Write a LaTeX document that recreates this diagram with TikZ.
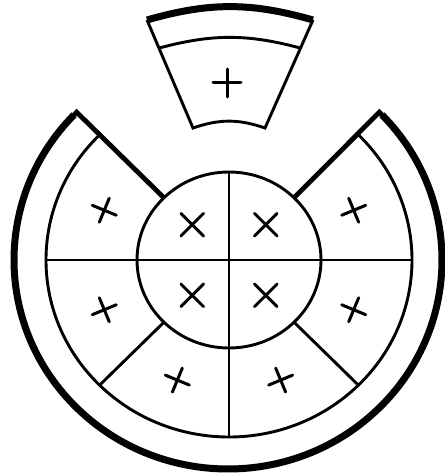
\documentclass[tikz,border=0pt]{standalone}
\usepackage{tikz}
\usetikzlibrary{calc}

\begin{document}
\begin{tikzpicture}[x=1pt,y=1pt,
  thinline/.style={line width=2.9pt},
  rimline/.style={line width=7pt},
  edgeline/.style={line width=4.8pt,line join=miter},
  plusmark/.style={line width=3pt,line cap=round}]
  \useasboundingbox (0,0) rectangle (445,475);
  % The wheel, drawn round its centre
  \begin{scope}[shift={(229,215)}]
    % Inner disc split in four
    \draw[thinline] (0,0) ellipse[x radius=92,y radius=88];
    \draw[thinline] (180:183 and 177) -- (0:183 and 177);
    \draw[thinline] (90:92 and 88) -- (270:183 and 177);
    % Ring, open at the top
    \draw[thinline] (135:183 and 177)
      arc[start angle=135,end angle=405,x radius=183,y radius=177];
    \foreach \a in {225,315}
      \draw[thinline] (\a:92 and 88) -- (\a:183 and 177);
    % Thick rim and the edges of the gap
    \coordinate (gapl) at ($(-1,0)+(135:214 and 209)$);
    \coordinate (gapr) at ($(-1,0)+(45:214 and 209)$);
    \draw[edgeline] (45:92 and 88) -- (gapr)
      arc[start angle=45,end angle=-225,x radius=214,y radius=209]
      -- (135:92 and 88);
    \draw[rimline] ($(-1,0)+(44:214 and 209)$)
      arc[start angle=44,end angle=-224,x radius=214,y radius=209];
    % Marks in the ring
    \foreach \a in {22.5,157.5,202.5,247.5,292.5,337.5}
      \draw[plusmark,shift={(\a:135 and 130)},rotate=\a]
        (-13,0) -- (13,0) (0,-13) -- (0,13);
    % Marks in the disc
    \foreach \a in {45,135,225,315}
      \draw[plusmark,shift={(\a:52 and 50)},rotate=45]
        (-16,0) -- (16,0) (0,-16) -- (0,16);
  \end{scope}
  % The piece taken out
  \coordinate (tl) at (147,455);
  \coordinate (tr) at (313,455);
  \coordinate (bl) at (193,347);
  \coordinate (br) at (265,347);
  \coordinate (ml) at ($(tl)!0.26!(bl)$);
  \coordinate (mr) at ($(tr)!0.26!(br)$);
  \draw[thinline,line join=miter] (tl) -- (bl) to[bend left=19] (br) -- (tr);
  \draw[rimline] (tl) to[bend left=16] (tr);
  \draw[thinline] (ml) to[bend left=15] (mr);
  \draw[plusmark] (213,392) -- (241,392) (227,378) -- (227,406);
\end{tikzpicture}
\end{document}
